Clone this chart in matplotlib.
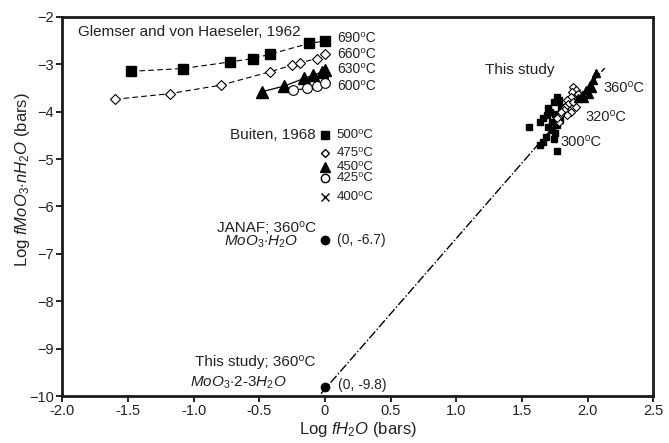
import numpy as np
import matplotlib
matplotlib.use('Agg')
import matplotlib.pyplot as plt

plt.rcParams['font.family'] = ['Liberation Sans', 'DejaVu Sans']
plt.rcParams['mathtext.fontset'] = 'custom'
plt.rcParams['mathtext.rm'] = 'Liberation Sans'
plt.rcParams['mathtext.it'] = 'Liberation Sans:italic'

txt = '#222222'
DEG = '\u2070C'

# Glemser and von Haeseler, 1962
g690_x = [-1.48, -1.08, -0.72, -0.55, -0.42, -0.12, 0.0]
g690_y = [-3.15, -3.09, -2.95, -2.88, -2.79, -2.56, -2.51]
g660_x = [-1.60, -1.18, -0.79, -0.42, -0.25, -0.19, -0.06, 0.0]
g660_y = [-3.74, -3.62, -3.44, -3.16, -3.02, -2.97, -2.88, -2.79]
g630_x = [-0.48, -0.31, -0.16, -0.09, -0.02, 0.0]
g630_y = [-3.58, -3.46, -3.30, -3.23, -3.16, -3.12]
g600_x = [-0.24, -0.14, -0.06, 0.0]
g600_y = [-3.55, -3.51, -3.46, -3.39]

# Buiten, 1968 (all at log fH2O = 0)
buiten_y = [-4.50, -4.87, -5.16, -5.41, -5.81]
buiten_lbl = ['500', '475', '450', '425', '400']

# this study
s300_x = [1.55, 1.77, 1.78, 1.74, 1.71, 1.69, 1.66, 1.64, 1.75, 1.73, 1.70, 1.73,
          1.75, 1.74, 1.68, 1.66, 1.64, 1.77, 1.79, 1.70, 1.77, 1.80]
s300_y = [-4.32, -3.69, -3.76, -3.79, -4.00, -4.07, -4.14, -4.22, -4.04, -4.22, -4.32, -4.39,
          -4.46, -4.57, -4.53, -4.64, -4.71, -4.83, -4.18, -3.93, -4.28, -3.90]
s320_x = [1.89, 1.91, 1.88, 1.92, 1.87, 1.84, 1.85, 1.89, 1.91, 1.83, 1.82, 1.87,
          1.84, 1.79, 1.78, 1.93, 1.80, 1.77]
s320_y = [-3.48, -3.55, -3.58, -3.65, -3.69, -3.76, -3.83, -3.79, -3.90, -3.90, -3.97, -4.00,
          -4.07, -4.07, -4.22, -3.62, -4.00, -4.14]
s360_x = [2.06, 2.04, 2.02, 2.03, 1.99, 2.01, 1.96, 1.97, 1.93]
s360_y = [-3.19, -3.34, -3.44, -3.51, -3.55, -3.62, -3.65, -3.72, -3.72]

fit_x = [-0.03, 2.13]
fit_y = [-9.95, -3.08]

fig = plt.figure(figsize=(6.69, 4.43), dpi=100)
ax = fig.add_axes([0.093, 0.106, 0.8836, 0.856])

dash = (0, (5, 3))
ax.plot(g690_x, g690_y, color='k', ls=dash, lw=0.8, marker='s', ms=7.5, mfc='k', mec='k')
ax.plot(g660_x, g660_y, color='k', ls=dash, lw=0.8, marker='D', ms=5.5, mfc='white', mec='k', mew=0.8)
ax.plot(g630_x, g630_y, color='k', ls='-', lw=0.9, marker='^', ms=8, mfc='k', mec='k')
ax.plot(g600_x, g600_y, color='k', ls='-', lw=0.9, marker='o', ms=7, mfc='white', mec='k', mew=0.8)

for lab, yy in zip(['690', '660', '630', '600'], [-2.45, -2.78, -3.11, -3.45]):
    ax.text(0.09, yy, lab + DEG, fontsize=10, color=txt, va='center')

ax.text(-1.88, -2.32, 'Glemser and von Haeseler, 1962', fontsize=11, color=txt, va='center')

# Buiten legend column
bmk = [dict(marker='s', ms=6, mfc='k'), dict(marker='D', ms=4.5, mfc='white'),
       dict(marker='^', ms=6.5, mfc='k'), dict(marker='o', ms=6, mfc='white'),
       dict(marker='x', ms=5.5, mfc='k')]
for yy, lab, kw in zip(buiten_y, buiten_lbl, bmk):
    ax.plot([0.0], [yy], ls='none', mec='k', mew=1.0, **kw)
    ax.text(0.09, yy, lab + DEG, fontsize=9.5, color=txt, va='center')
ax.text(-0.07, -4.50, 'Buiten, 1968', fontsize=11, color=txt, va='center', ha='right')

# JANAF point
ax.plot([0.0], [-6.7], 'o', color='k', ms=6)
ax.text(-0.07, -6.45, 'JANAF; 360' + DEG, fontsize=11, color=txt, va='center', ha='right')
ax.text(-0.2, -6.74, r'$MoO_3{\cdot}H_2O$', fontsize=11, color=txt, va='center', ha='right')
ax.text(0.09, -6.7, '(0, -6.7)', fontsize=10, color=txt, va='center')

# this study
ax.plot(fit_x, fit_y, color='k', ls='-.', lw=1.0)
ax.plot([0.0], [-9.8], 'o', color='k', ms=6)
ax.text(-0.07, -9.28, 'This study; 360' + DEG, fontsize=11, color=txt, va='center', ha='right')
ax.text(-1.03, -9.73, r'$MoO_3{\cdot}2\text{-}3H_2O$', fontsize=11, color=txt, va='center')
ax.text(0.1, -9.77, '(0, -9.8)', fontsize=10, color=txt, va='center')

ax.plot(s300_x, s300_y, 's', color='k', ms=5, ls='none')
ax.plot(s320_x, s320_y, 'D', mfc='white', mec='k', ms=3.8, mew=0.8, ls='none')
ax.plot(s360_x, s360_y, '^', color='k', ms=5.5, ls='none')
ax.text(1.22, -3.13, 'This study', fontsize=11, color=txt, va='center')
ax.text(2.12, -3.51, '360' + DEG, fontsize=10.5, color=txt, va='center')
ax.text(1.98, -4.11, '320' + DEG, fontsize=10.5, color=txt, va='center')
ax.text(1.79, -4.64, '300' + DEG, fontsize=10.5, color=txt, va='center')

ax.set_xlim(-2.0, 2.5)
ax.set_ylim(-10, -2)
ax.set_xticks(np.arange(-2.0, 2.51, 0.5))
ax.set_xticklabels(['-2.0', '-1.5', '-1.0', '-0.5', '0', '0.5', '1.0', '1.5', '2.0', '2.5'])
ax.set_yticks(np.arange(-10, -1, 1))
ax.tick_params(direction='out', length=4, width=1.2, labelsize=10.5, labelcolor=txt, pad=2)
for sp in ax.spines.values():
    sp.set_linewidth(2.0)
    sp.set_color('#1a1a1a')

ax.set_xlabel(r'Log $fH_2O$ (bars)', fontsize=12, color=txt, labelpad=1)
ax.set_ylabel(r'Log $fMoO_3{\cdot}nH_2O$ (bars)', fontsize=12, color=txt)
ax.yaxis.set_label_coords(-0.051, 0.57)

fig.savefig('out.png', dpi=100)
